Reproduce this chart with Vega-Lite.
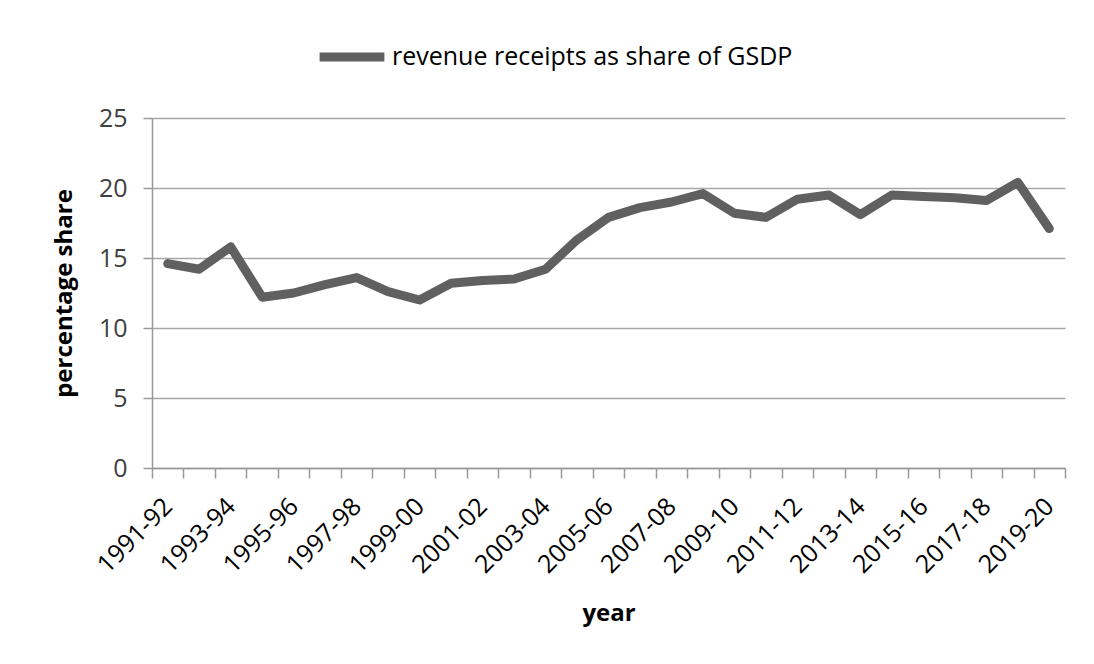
{
  "$schema": "https://vega.github.io/schema/vega-lite/v6.json",
  "autosize": {"type": "none"},
  "width": 913,
  "height": 350,
  "padding": {"left": 152, "top": 118, "right": 29, "bottom": 196},
  "background": "white",
  "config": {
    "view": {"stroke": null},
    "font": "Open Sans"
  },
  "data": {
    "values": [
      {"year": "1991-92", "share": 14.6, "series": "revenue receipts as share of GSDP"},
      {"year": "1992-93", "share": 14.2, "series": "revenue receipts as share of GSDP"},
      {"year": "1993-94", "share": 15.8, "series": "revenue receipts as share of GSDP"},
      {"year": "1994-95", "share": 12.2, "series": "revenue receipts as share of GSDP"},
      {"year": "1995-96", "share": 12.5, "series": "revenue receipts as share of GSDP"},
      {"year": "1996-97", "share": 13.1, "series": "revenue receipts as share of GSDP"},
      {"year": "1997-98", "share": 13.6, "series": "revenue receipts as share of GSDP"},
      {"year": "1998-99", "share": 12.6, "series": "revenue receipts as share of GSDP"},
      {"year": "1999-00", "share": 12.0, "series": "revenue receipts as share of GSDP"},
      {"year": "2000-01", "share": 13.2, "series": "revenue receipts as share of GSDP"},
      {"year": "2001-02", "share": 13.4, "series": "revenue receipts as share of GSDP"},
      {"year": "2002-03", "share": 13.5, "series": "revenue receipts as share of GSDP"},
      {"year": "2003-04", "share": 14.2, "series": "revenue receipts as share of GSDP"},
      {"year": "2004-05", "share": 16.3, "series": "revenue receipts as share of GSDP"},
      {"year": "2005-06", "share": 17.9, "series": "revenue receipts as share of GSDP"},
      {"year": "2006-07", "share": 18.6, "series": "revenue receipts as share of GSDP"},
      {"year": "2007-08", "share": 19.0, "series": "revenue receipts as share of GSDP"},
      {"year": "2008-09", "share": 19.6, "series": "revenue receipts as share of GSDP"},
      {"year": "2009-10", "share": 18.2, "series": "revenue receipts as share of GSDP"},
      {"year": "2010-11", "share": 17.9, "series": "revenue receipts as share of GSDP"},
      {"year": "2011-12", "share": 19.2, "series": "revenue receipts as share of GSDP"},
      {"year": "2012-13", "share": 19.5, "series": "revenue receipts as share of GSDP"},
      {"year": "2013-14", "share": 18.1, "series": "revenue receipts as share of GSDP"},
      {"year": "2014-15", "share": 19.5, "series": "revenue receipts as share of GSDP"},
      {"year": "2015-16", "share": 19.4, "series": "revenue receipts as share of GSDP"},
      {"year": "2016-17", "share": 19.3, "series": "revenue receipts as share of GSDP"},
      {"year": "2017-18", "share": 19.1, "series": "revenue receipts as share of GSDP"},
      {"year": "2018-19", "share": 20.4, "series": "revenue receipts as share of GSDP"},
      {"year": "2019-20", "share": 17.1, "series": "revenue receipts as share of GSDP"}
    ]
  },
  "mark": {"type": "line", "strokeWidth": 9, "strokeCap": "round", "strokeJoin": "round"},
  "encoding": {
    "x": {
      "field": "year",
      "type": "ordinal",
      "sort": null,
      "bandPosition": 0.5,
      "scale": {"type": "band", "paddingInner": 0, "paddingOuter": 0},
      "axis": {
        "title": "year",
        "titleFont": "Open Sans",
        "titleFontSize": 24,
        "titleFontWeight": "bold",
        "titleColor": "#000000",
        "titlePadding": 24,
        "labelAngle": -45,
        "labelAlign": "right",
        "labelBaseline": "middle",
        "labelFontSize": 25,
        "labelColor": "#000000",
        "labelPadding": 24,
        "labelOverlap": false,
        "labelBound": false,
        "labelExpr": "parseInt(substring(datum.value, 0, 4)) % 2 == 1 ? datum.label : ''",
        "tickBand": "extent",
        "tickSize": 10,
        "tickColor": "#999999",
        "tickWidth": 1.5,
        "domainColor": "#999999",
        "domainWidth": 1.5,
        "grid": false
      }
    },
    "y": {
      "field": "share",
      "type": "quantitative",
      "scale": {"domain": [0, 25], "nice": false},
      "axis": {
        "title": "percentage share",
        "titleFont": "Open Sans",
        "titleFontSize": 24,
        "titleFontWeight": "bold",
        "titleColor": "#000000",
        "titlePadding": 22,
        "values": [0, 5, 10, 15, 20, 25],
        "labelFontSize": 25,
        "labelColor": "#404040",
        "labelPadding": 16,
        "tickSize": 9,
        "tickColor": "#999999",
        "tickWidth": 1.5,
        "domainColor": "#999999",
        "domainWidth": 1.5,
        "grid": true,
        "gridColor": "#a6a6a6",
        "gridWidth": 1.5
      }
    },
    "color": {
      "field": "series",
      "type": "nominal",
      "scale": {"range": ["#606060"]},
      "legend": {
        "title": null,
        "orient": "none",
        "legendX": 163,
        "legendY": -98,
        "symbolType": "stroke",
        "symbolSize": 4200,
        "symbolStrokeWidth": 9,
        "labelFontSize": 25,
        "labelLimit": 800,
        "labelColor": "#000000",
        "labelOffset": 3
      }
    }
  }
}
